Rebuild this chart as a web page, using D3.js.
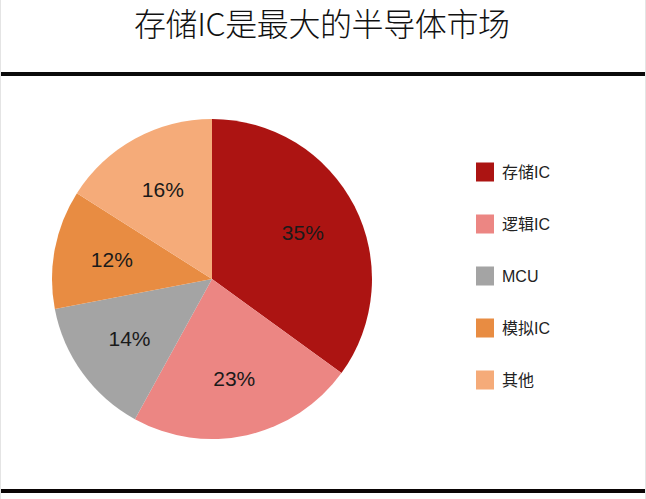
<!DOCTYPE html>
<html><head><meta charset="utf-8">
<script src="https://cdn.jsdelivr.net/npm/d3@7"></script>
<style>html,body{margin:0;padding:0;background:#fff;}svg{display:block;}</style>
</head><body>
<svg id="c" width="646" height="499"></svg>
<script>
const title = "存储IC是最大的半导体市场";
const categories = ["存储IC", "逻辑IC", "MCU", "模拟IC", "其他"];
const values = [35, 23, 14, 12, 16];
const colors = ["#AC1412", "#EC8683", "#A4A4A4", "#E88C42", "#F5AB79"];

const svg = d3.select("#c");
const W = 646, H = 499;
const cjk = "'Noto Sans CJK SC','Noto Sans',sans-serif";
const latin = "'Liberation Sans','Noto Sans CJK SC',sans-serif";

// side borders
svg.append("line").attr("x1",0.5).attr("x2",0.5).attr("y1",0).attr("y2",H).attr("stroke","#e4e4e4");
svg.append("line").attr("x1",645.5).attr("x2",645.5).attr("y1",0).attr("y2",H).attr("stroke","#e4e4e4");

svg.append("text").attr("x",322).attr("y",36).attr("text-anchor","middle")
  .attr("font-family",cjk).attr("font-weight",300).attr("font-size",32)
  .attr("textLength",376).attr("lengthAdjust","spacing")
  .attr("fill","#111").text(title);

svg.append("rect").attr("x",1).attr("y",72).attr("width",644).attr("height",4).attr("fill","#0a0a0a");
svg.append("rect").attr("x",1).attr("y",489).attr("width",644).attr("height",4).attr("fill","#0a0505");

const cx = 212, cy = 279, R = 160;
const pie = d3.pie().sort(null).value(d => d)(values);
const arc = d3.arc().innerRadius(0).outerRadius(R);
const labelArc = d3.arc().innerRadius(102).outerRadius(102);
const g = svg.append("g").attr("transform",`translate(${cx},${cy})`);
g.selectAll("path").data(pie).join("path").attr("d",arc).attr("fill",(d,i)=>colors[i]);
g.selectAll("text").data(pie).join("text")
  .attr("x",d=>labelArc.centroid(d)[0]).attr("y",d=>labelArc.centroid(d)[1])
  .attr("text-anchor","middle").attr("dominant-baseline","central")
  .attr("font-family",latin).attr("font-size",21).attr("fill","#1a1a1a")
  .text(d=>d.data+"%");

const legY = d3.scalePoint().domain(categories).range([172, 380]);
const lg = svg.append("g");
lg.selectAll("rect").data(categories).join("rect")
  .attr("x",476).attr("y",d=>legY(d)-9.5).attr("width",18).attr("height",19)
  .attr("fill",(d,i)=>colors[i]);
lg.selectAll("text").data(categories).join("text")
  .attr("x",502).attr("y",d=>legY(d)).attr("dominant-baseline","central")
  .attr("font-family",latin).attr("font-size",16).attr("fill","#222").text(d=>d);
</script>
</body></html>
